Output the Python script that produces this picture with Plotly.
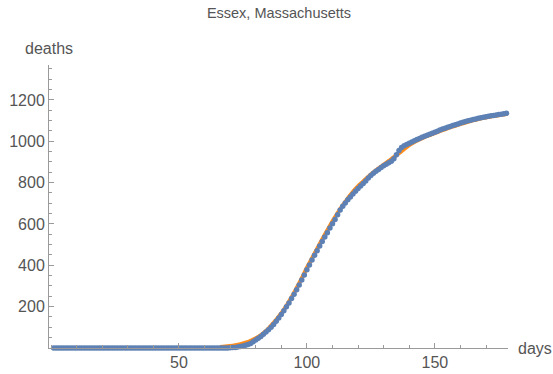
import plotly.graph_objects as go

# Observed cumulative deaths (one point per day, day 1..179)
deaths_days = list(range(1, 180))
deaths = [
    0, 0, 0, 0, 0, 0, 0, 0, 0, 0, 0, 0, 0, 0, 0, 0, 0, 0, 0, 0,
    0, 0, 0, 0, 0, 0, 0, 0, 0, 0, 0, 0, 0, 0, 0, 0, 0, 0, 0, 0,
    0, 0, 0, 0, 0, 0, 0, 0, 0, 0, 0, 0, 0, 0, 0, 0, 0, 0, 0, 0,
    0, 0, 0, 0, 0, 0, 0, 0, 0,
    1, 2, 3, 5, 7, 10, 13, 17, 22, 30,
    39, 47, 56, 66, 77, 88, 100, 114, 129, 145,
    162, 180, 199, 218, 239, 260, 282, 305, 329, 353,
    378, 402, 426, 449, 471, 493, 515, 537, 558, 580,
    601, 622, 645, 668, 686, 702, 717, 731, 745, 758,
    771, 784, 796, 808, 822, 835, 845, 855, 864, 873,
    882, 889, 896, 903, 915, 935, 955, 970, 978, 985,
    991, 997, 1003, 1009, 1014, 1019, 1024, 1029, 1034, 1039,
    1044, 1049, 1054, 1059, 1063, 1068, 1072, 1076, 1080, 1084,
    1088, 1092, 1096, 1099, 1102, 1105, 1108, 1111, 1114, 1116,
    1119, 1121, 1123, 1125, 1127, 1129, 1131, 1133, 1135, 1137,
]

# Fitted curve, read every 2 days
fit_days = list(range(66, 182, 2))
fit_vals = [
    5, 7, 10, 14, 19, 26, 35, 47, 62, 82,
    108, 136, 168, 204, 245, 290, 338, 388, 434, 480,
    526, 570, 613, 653, 690, 724, 756, 783, 806, 829,
    850, 869, 887, 905, 923, 942, 962, 981, 996, 1009,
    1020, 1030, 1040, 1049, 1058, 1067, 1075, 1083, 1091, 1098,
    1104, 1110, 1115, 1120, 1124, 1128, 1132, 1136,
]

x_ticks = [50, 100, 150]
y_ticks = [200, 400, 600, 800, 1000, 1200]

BLUE = "#5E81B5"
ORANGE = "#FF8C1A"
TXT = "#555555"
AX = "#9a9a9a"
FONT = "Liberation Sans, Arial, sans-serif"

fig = go.Figure()
fig.add_trace(go.Scatter(
    x=fit_days, y=fit_vals, mode="lines",
    line=dict(color=ORANGE, width=4, shape="spline"),
    hoverinfo="skip", showlegend=False, cliponaxis=False,
))
fig.add_trace(go.Scatter(
    x=deaths_days, y=deaths, mode="markers",
    marker=dict(color=BLUE, size=5.5, line=dict(width=0)),
    showlegend=False, cliponaxis=False,
))

fig.update_layout(
    width=553, height=374,
    margin=dict(l=49, r=45, t=65, b=26, autoexpand=False),
    paper_bgcolor="white", plot_bgcolor="white",
    font=dict(family=FONT, size=16, color=TXT),
    title=dict(text="Essex, Massachusetts", x=279 / 553, xanchor="center",
               y=1 - 13 / 374, yanchor="middle",
               font=dict(family=FONT, size=14.5, color=TXT)),
    xaxis=dict(
        range=[-0.8, 178.6], showgrid=False, zeroline=False, automargin=False,
        showline=True, linecolor=AX, linewidth=1,
        tickmode="array", tickvals=x_ticks, ticktext=[str(v) for v in x_ticks],
        ticks="inside", ticklen=5, tickcolor=AX, tickwidth=1,
        minor=dict(tickmode="linear", tick0=0, dtick=10, ticks="inside",
                   ticklen=3, tickcolor=AX, tickwidth=1, showgrid=False),
        tickfont=dict(family=FONT, size=16, color=TXT),
    ),
    yaxis=dict(
        range=[0, 1369], showgrid=False, zeroline=False, automargin=False,
        showline=True, linecolor=AX, linewidth=1,
        tickmode="array", tickvals=y_ticks, ticktext=[str(v) for v in y_ticks],
        ticks="inside", ticklen=5, tickcolor=AX, tickwidth=1,
        minor=dict(tickmode="linear", tick0=0, dtick=50, ticks="inside",
                   ticklen=3, tickcolor=AX, tickwidth=1, showgrid=False),
        tickfont=dict(family=FONT, size=16, color=TXT),
    ),
    annotations=[
        dict(text="deaths", xref="paper", yref="paper", x=0, y=1,
             xanchor="center", yanchor="bottom", yshift=6, showarrow=False,
             font=dict(family=FONT, size=16, color=TXT)),
        dict(text="days", xref="paper", yref="paper", x=1, y=0,
             xanchor="left", yanchor="middle", xshift=8, showarrow=False,
             font=dict(family=FONT, size=16, color=TXT)),
    ],
)

fig.write_html(
    "out.html",
    config={"displayModeBar": False},
    post_script="document.body.style.margin='0px';document.body.style.overflow='hidden';",
)
